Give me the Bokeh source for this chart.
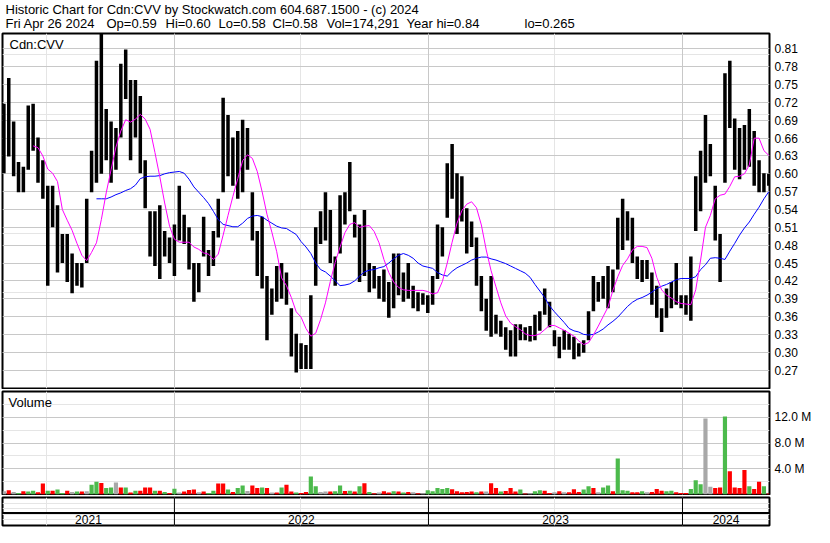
import pandas as pd
from bokeh.plotting import figure
from bokeh.layouts import column
from bokeh.models import (Range1d, LinearAxis, FixedTicker, Label, Span, Grid,
                          PrintfTickFormatter, ColumnDataSource)
from bokeh.embed import file_html
from bokeh.resources import INLINE

# ---------------- data ----------------
header_line1 = "Historic Chart for Cdn:CVV by Stockwatch.com 604.687.1500 - (c) 2024"
header_fields = ["Fri Apr 26 2024", "Op=0.59", "Hi=0.60", "Lo=0.58", "Cl=0.58",
                 "Vol=174,291", "Year hi=0.84", "lo=0.265"]
symbol = "Cdn:CVV"
price_ticks = [0.27, 0.30, 0.33, 0.36, 0.39, 0.42, 0.45, 0.48, 0.51, 0.54,
               0.57, 0.60, 0.63, 0.66, 0.69, 0.72, 0.75, 0.78, 0.81]
volume_ticks = [4, 8, 12]          # millions of shares
years = ["2021", "2022", "2023", "2024"]
year_starts = ["2022-01-01", "2023-01-01", "2024-01-01"]
first_week = "2021-05-01"
view_start = "2021-04-29"
view_end = "2024-05-05"

# weekly high / low
highs = [0.718, 0.761, 0.688, 0.620, 0.612, 0.715, 0.718, 0.661, 0.623, 0.580,
         0.580, 0.547, 0.499, 0.499, 0.466, 0.450, 0.450, 0.558, 0.639, 0.790,
         0.835, 0.709, 0.688, 0.677, 0.785, 0.809, 0.758, 0.758, 0.731, 0.623,
         0.537, 0.537, 0.547, 0.504, 0.493, 0.515, 0.580, 0.531, 0.510, 0.450,
         0.450, 0.528, 0.472, 0.504, 0.558, 0.728, 0.699, 0.661, 0.672, 0.691,
         0.677, 0.569, 0.504, 0.528, 0.428, 0.407, 0.445, 0.450, 0.434, 0.374,
         0.331, 0.315, 0.312, 0.396, 0.510, 0.537, 0.569, 0.539, 0.461, 0.564,
         0.569, 0.620, 0.531, 0.515, 0.539, 0.450, 0.445, 0.428, 0.439, 0.418,
         0.466, 0.466, 0.434, 0.450, 0.412, 0.401, 0.399, 0.396, 0.428, 0.515,
         0.510, 0.618, 0.650, 0.601, 0.596, 0.542, 0.520, 0.493, 0.428, 0.390,
         0.428, 0.363, 0.353, 0.342, 0.337, 0.347, 0.347, 0.342, 0.344, 0.363,
         0.369, 0.407, 0.385, 0.337, 0.326, 0.337, 0.331, 0.326, 0.315, 0.320,
         0.369, 0.428, 0.418, 0.428, 0.445, 0.439, 0.526, 0.558, 0.537, 0.526,
         0.461, 0.455, 0.455, 0.434, 0.412, 0.374, 0.407, 0.418, 0.450, 0.396,
         0.396, 0.461, 0.596, 0.639, 0.699, 0.650, 0.580, 0.499, 0.769, 0.790,
         0.693, 0.677, 0.682, 0.709, 0.672, 0.623, 0.601, 0.600]
lows = [0.601, 0.629, 0.596, 0.569, 0.569, 0.607, 0.639, 0.585, 0.558, 0.412,
        0.510, 0.434, 0.450, 0.418, 0.399, 0.412, 0.409, 0.450, 0.569, 0.585,
        0.600, 0.623, 0.585, 0.607, 0.661, 0.726, 0.623, 0.661, 0.601, 0.542,
        0.461, 0.445, 0.423, 0.461, 0.450, 0.428, 0.488, 0.482, 0.439, 0.385,
        0.401, 0.461, 0.428, 0.445, 0.493, 0.569, 0.596, 0.580, 0.558, 0.569,
        0.607, 0.488, 0.428, 0.407, 0.320, 0.363, 0.385, 0.390, 0.380, 0.293,
        0.266, 0.272, 0.272, 0.272, 0.412, 0.482, 0.488, 0.450, 0.412, 0.466,
        0.515, 0.537, 0.493, 0.418, 0.428, 0.401, 0.407, 0.390, 0.385, 0.358,
        0.374, 0.396, 0.385, 0.390, 0.374, 0.369, 0.380, 0.366, 0.380, 0.423,
        0.461, 0.526, 0.558, 0.499, 0.520, 0.466, 0.477, 0.412, 0.369, 0.336,
        0.326, 0.331, 0.326, 0.304, 0.293, 0.293, 0.320, 0.320, 0.318, 0.320,
        0.336, 0.363, 0.342, 0.310, 0.290, 0.304, 0.304, 0.288, 0.293, 0.299,
        0.320, 0.369, 0.385, 0.390, 0.374, 0.401, 0.439, 0.472, 0.488, 0.450,
        0.423, 0.418, 0.423, 0.380, 0.358, 0.334, 0.358, 0.374, 0.380, 0.374,
        0.363, 0.353, 0.504, 0.537, 0.585, 0.596, 0.488, 0.418, 0.585, 0.677,
        0.607, 0.591, 0.607, 0.612, 0.580, 0.569, 0.569, 0.580]

# moving averages (values read weekly; they start later than the bars)
ma_short = [0.647, 0.644, 0.630, 0.608, 0.601, 0.587, 0.540, 0.522, 0.505, 0.483,
            0.463, 0.454, 0.468, 0.484, 0.523, 0.568, 0.607, 0.645, 0.672, 0.691,
            0.687, 0.692, 0.700, 0.692, 0.675, 0.636, 0.595, 0.551, 0.512, 0.490,
            0.485, 0.485, 0.485, 0.477, 0.473, 0.467, 0.465, 0.456, 0.465, 0.497,
            0.530, 0.562, 0.592, 0.622, 0.632, 0.626, 0.604, 0.570, 0.532, 0.502,
            0.469, 0.425, 0.412, 0.392, 0.368, 0.359, 0.340, 0.327, 0.332, 0.355,
            0.383, 0.419, 0.451, 0.477, 0.501, 0.515, 0.518, 0.510, 0.512, 0.513,
            0.503, 0.484, 0.456, 0.434, 0.418, 0.409, 0.405, 0.404, 0.404, 0.404,
            0.404, 0.402, 0.398, 0.400, 0.419, 0.450, 0.485, 0.517, 0.538, 0.549,
            0.553, 0.543, 0.514, 0.472, 0.437, 0.410, 0.383, 0.361, 0.349, 0.343,
            0.338, 0.331, 0.328, 0.328, 0.331, 0.338, 0.345, 0.345, 0.341, 0.337,
            0.332, 0.327, 0.319, 0.313, 0.316, 0.329, 0.344, 0.360, 0.376, 0.404,
            0.427, 0.446, 0.457, 0.472, 0.478, 0.478, 0.476, 0.458, 0.426, 0.405,
            0.396, 0.391, 0.385, 0.382, 0.381, 0.380, 0.405, 0.455, 0.510, 0.530,
            0.558, 0.564, 0.566, 0.579, 0.595, 0.596, 0.600, 0.615, 0.660, 0.660,
            0.639, 0.631]
ma_long = [0.558, 0.558, 0.558, 0.561, 0.565, 0.568, 0.572, 0.575, 0.581, 0.592,
           0.595, 0.596, 0.596, 0.597, 0.600, 0.602, 0.603, 0.604, 0.601, 0.591,
           0.578, 0.569, 0.560, 0.550, 0.537, 0.523, 0.515, 0.513, 0.511, 0.511,
           0.517, 0.525, 0.529, 0.530, 0.528, 0.522, 0.517, 0.512, 0.509, 0.508,
           0.503, 0.498, 0.486, 0.477, 0.466, 0.450, 0.439, 0.435, 0.428, 0.420,
           0.412, 0.413, 0.415, 0.420, 0.428, 0.435, 0.438, 0.439, 0.442, 0.444,
           0.450, 0.457, 0.463, 0.466, 0.463, 0.458, 0.450, 0.445, 0.443, 0.441,
           0.434, 0.430, 0.428, 0.436, 0.442, 0.446, 0.450, 0.455, 0.458, 0.460,
           0.460, 0.457, 0.455, 0.452, 0.449, 0.445, 0.441, 0.437, 0.433, 0.426,
           0.414, 0.403, 0.392, 0.378, 0.368, 0.359, 0.350, 0.340, 0.336, 0.334,
           0.330, 0.329, 0.330, 0.334, 0.339, 0.346, 0.352, 0.359, 0.368, 0.377,
           0.384, 0.389, 0.392, 0.396, 0.401, 0.407, 0.411, 0.414, 0.418, 0.422,
           0.424, 0.424, 0.424, 0.427, 0.439, 0.447, 0.458, 0.459, 0.458, 0.456,
           0.470, 0.483, 0.497, 0.509, 0.519, 0.532, 0.544, 0.558, 0.570]

# typical daily volume of each week, millions
volume_m = [0.5, 0.67, 0.4, 0.25, 0.5, 0.46, 0.6, 0.36, 1.7, 0.6,
            0.6, 0.77, 0.25, 0.6, 0.4, 0.46, 0.46, 0.5, 1.5, 2.0,
            1.8, 1.0, 1.1, 1.85, 1.1, 1.1, 0.3, 0.6, 0.6, 1.1,
            1.1, 0.6, 0.6, 0.4, 0.25, 0.9, 0.3, 0.46, 0.7, 0.77,
            0.36, 0.46, 0.25, 0.6, 1.7, 1.7, 0.77, 0.4, 1.0, 1.4,
            0.56, 1.4, 1.0, 1.1, 1.0, 0.3, 0.3, 1.1, 1.5, 0.46,
            0.3, 0.25, 0.4, 2.8, 1.3, 0.4, 0.46, 0.46, 0.5, 1.4,
            0.56, 0.6, 0.46, 1.3, 1.75, 0.4, 0.2, 0.3, 0.5, 0.3,
            0.5, 0.46, 0.3, 0.4, 0.36, 0.2, 0.15, 0.67, 0.5, 1.0,
            0.87, 1.0, 0.8, 0.5, 0.36, 0.4, 0.46, 0.36, 0.46, 0.46,
            1.75, 1.0, 0.46, 0.56, 1.0, 0.46, 0.77, 0.15, 0.15, 0.5,
            0.67, 0.6, 0.25, 0.36, 0.5, 0.36, 0.36, 0.8, 0.4, 0.77,
            1.3, 1.0, 0.36, 1.1, 1.4, 0.5, 5.6, 0.67, 0.6, 0.36,
            0.36, 0.5, 0.36, 0.4, 0.87, 0.6, 0.5, 0.6, 0.36, 0.25,
            0.25, 0.87, 2.2, 1.6, 11.8, 1.2, 1.0, 1.1, 12.1, 3.6,
            1.1, 1.0, 3.8, 1.3, 0.87, 2.0, 1.3, 0.15]
# u = up (green), d = down (red), n = unchanged (grey); one per week
direction = ["n", "d", "n", "u", "d", "u", "u", "d", "d", "u",
             "d", "u", "u", "d", "n", "u", "d", "n", "u", "u",
             "d", "u", "u", "n", "d", "u", "d", "u", "d", "d",
             "d", "u", "d", "u", "d", "u", "n", "d", "d", "d",
             "n", "d", "u", "u", "d", "d", "u", "d", "u", "u",
             "n", "d", "d", "u", "d", "n", "d", "u", "d", "d",
             "u", "d", "d", "u", "u", "n", "n", "d", "u", "u",
             "d", "u", "d", "u", "d", "u", "d", "n", "d", "d",
             "u", "d", "u", "d", "n", "d", "n", "u", "u", "u",
             "u", "u", "d", "d", "d", "d", "d", "u", "d", "n",
             "d", "d", "u", "d", "d", "d", "u", "d", "n", "u",
             "u", "d", "d", "n", "d", "n", "d", "d", "d", "u",
             "u", "d", "n", "u", "u", "d", "u", "u", "u", "d",
             "d", "u", "n", "d", "d", "d", "u", "u", "d", "d",
             "d", "u", "u", "u", "n", "n", "d", "d", "u", "d",
             "d", "d", "d", "u", "d", "d", "u", "d"]

# ---------------- styling ----------------
W = 814
RB = 43
FONT = "Liberation Sans"
GRID = "#c8c8c8"
COLORS = {"u": "#4cba4c", "d": "#ff0000", "n": "#a8a8a8"}

n = len(highs)
dates = [pd.Timestamp(first_week) + pd.Timedelta(days=7 * i) for i in range(n)]
xr = Range1d(pd.Timestamp(view_start), pd.Timestamp(view_end))
year_ts = [pd.Timestamp(d) for d in year_starts]
year_ms = [t.value / 1e6 for t in year_ts]

def base(height, yr, top=2, bottom=1):
    f = figure(width=W, height=height, x_range=xr, y_range=yr,
               x_axis_type="datetime", x_axis_location=None, y_axis_location=None,
               toolbar_location=None, output_backend="svg",
               min_border_left=2, min_border_right=RB,
               min_border_top=top, min_border_bottom=bottom)
    f.outline_line_color = "black"
    f.outline_line_width = 2
    f.outline_line_alpha = 1
    f.background_fill_color = "white"
    f.border_fill_color = "white"
    return f

# header
HDR_H = 31
hdr = figure(width=W, height=HDR_H, x_range=(0, 1), y_range=(0, 1),
             x_axis_location=None, y_axis_location=None,
             toolbar_location=None, output_backend="svg", min_border=0)
hdr.outline_line_color = None
hdr.grid.visible = False
hdr.add_layout(Label(x=3, y=22, x_units="screen", y_units="screen", text=header_line1,
                     text_font=FONT, text_font_size="13px", text_baseline="middle",
                     text_color="black"))
field_x = [3, 104, 163, 216, 270, 324, 404, 522]
for fx, ft in zip(field_x, header_fields):
    hdr.add_layout(Label(x=fx, y=8.5, x_units="screen", y_units="screen", text=ft,
                         text_font=FONT, text_font_size="13px", text_baseline="middle",
                         text_color="black"))

# price panel
P_H = 358
p = base(P_H, Range1d(0.239, 0.836))
p.add_layout(Grid(dimension=1, ticker=FixedTicker(ticks=price_ticks),
                  grid_line_color=GRID, grid_line_width=1))
p.add_layout(Grid(dimension=0, ticker=FixedTicker(ticks=year_ms),
                  grid_line_color=GRID, grid_line_width=1))
pax = LinearAxis(ticker=FixedTicker(ticks=price_ticks),
                 formatter=PrintfTickFormatter(format="%.2f"),
                 axis_line_color=None, major_tick_line_color=None, minor_tick_line_color=None,
                 major_tick_out=0, major_tick_in=0, major_label_standoff=5,
                 major_label_text_font=FONT, major_label_text_font_size="12px",
                 major_label_text_color="black")
p.add_layout(pax, "right")
src = ColumnDataSource(dict(x=dates, hi=highs, lo=lows))
p.segment(x0="x", y0="lo", x1="x", y1="hi", source=src, line_color="black", line_width=3.5)
p.line(dates[n - len(ma_long):], ma_long, line_color="#0000ff", line_width=1)
p.line(dates[n - len(ma_short):], ma_short, line_color="#ff00ff", line_width=1)
p.add_layout(Label(x=7, y=P_H - 14, x_units="screen", y_units="screen", text=symbol,
                   text_font=FONT, text_font_size="13px", text_baseline="middle",
                   text_color="black"))

# volume panel
V_H = 106
v = base(V_H, Range1d(0, 16.0))
v.add_layout(Grid(dimension=1, ticker=FixedTicker(ticks=volume_ticks),
                  grid_line_color=GRID, grid_line_width=1))
v.add_layout(Grid(dimension=0, ticker=FixedTicker(ticks=year_ms),
                  grid_line_color=GRID, grid_line_width=1))
vax = LinearAxis(ticker=FixedTicker(ticks=volume_ticks),
                 formatter=PrintfTickFormatter(format="%.1f M"),
                 axis_line_color=None, major_tick_line_color=None, minor_tick_line_color=None,
                 major_tick_out=0, major_tick_in=0, major_label_standoff=5,
                 major_label_text_font=FONT, major_label_text_font_size="12px",
                 major_label_text_color="black")
v.add_layout(vax, "right")
vcol = [COLORS[d] for d in direction[:n]] + ["#a8a8a8"] * max(0, n - len(direction))
vsrc = ColumnDataSource(dict(x=dates, top=volume_m, c=vcol))
v.vbar(x="x", top="top", bottom=0, width=pd.Timedelta(days=6).total_seconds() * 1000,
       fill_color="c", line_color=None, source=vsrc)
v.add_layout(Label(x=6, y=V_H - 14, x_units="screen", y_units="screen", text="Volume",
                   text_font=FONT, text_font_size="13px", text_baseline="middle",
                   text_color="black"))

# year strip
s = base(32, Range1d(0, 1), top=2, bottom=2)
for t in year_ms:
    s.add_layout(Span(location=t, dimension="height", line_color="black", line_width=1))
s.add_layout(Span(location=0.45, dimension="width", line_color="black", line_width=2))
edges = [pd.Timestamp(view_start)] + year_ts + [pd.Timestamp(view_end)]
mids = [edges[i] + (edges[i + 1] - edges[i]) / 2 for i in range(len(years))]
s.text(x=mids, y=[0.2] * len(years), text=years, text_align="center", text_baseline="middle",
       text_font={"value": FONT}, text_font_size={"value": "12px"}, text_color="black")

layout = column(hdr, p, v, s, spacing=0)
open("out.html", "w").write(file_html(layout, INLINE))
